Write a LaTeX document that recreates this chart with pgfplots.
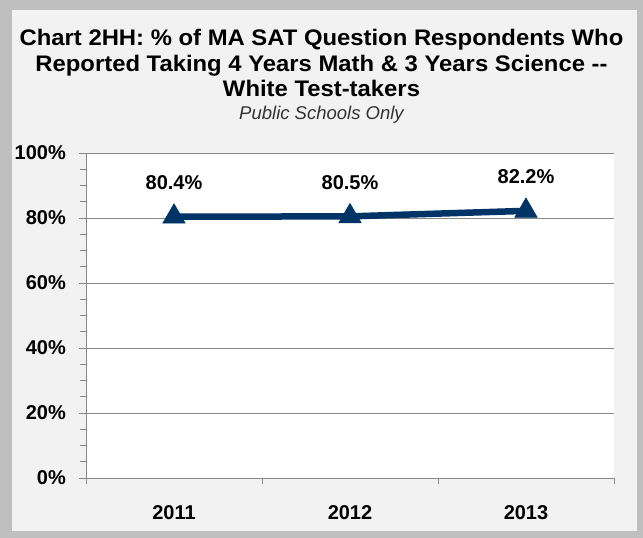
\documentclass[border=0pt]{standalone}
\usepackage{fontspec}
\setmainfont{Liberation Sans}
\newfontfamily\titlefont[FakeStretch=1.06]{Liberation Sans}
\usepackage{pgfplots}
\pgfplotsset{compat=1.18}
\definecolor{navy}{HTML}{003366}
\definecolor{frame}{HTML}{BFBFBF}
\definecolor{panel}{HTML}{F2F2F2}
\definecolor{gridgray}{HTML}{878787}

\begin{document}
\begin{tikzpicture}
% chart frame (px -> bp, origin at the plot's lower left corner)
\fill[frame] (-86bp,-60bp) rectangle (557bp,478bp);
\fill[panel] (-74bp,-53bp) rectangle (551bp,468bp);

\node[anchor=base,font=\titlefont\bfseries\fontsize{22.5bp}{27bp}\selectfont] at (235.5bp,432bp) {Chart 2HH: \% of MA SAT Question Respondents Who};
\node[anchor=base,font=\titlefont\bfseries\fontsize{22.5bp}{27bp}\selectfont] at (235.5bp,406.3bp) {Reported Taking 4 Years Math \& 3 Years Science -{}-};
\node[anchor=base,font=\titlefont\bfseries\fontsize{22.5bp}{27bp}\selectfont] at (235.5bp,381.5bp) {White Test-takers};
\node[anchor=base,font=\itshape\fontsize{18.5bp}{22bp}\selectfont,text=black!80] at (235.5bp,358bp) {Public Schools Only};

\begin{axis}[
    at={(0,0)}, anchor=south west,
    scale only axis,
    width=528bp, height=325bp,
    axis background/.style={fill=white},
    xmin=0.5, xmax=3.5,
    ymin=0, ymax=100,
    xtick={1,2,3},
    xticklabels={2011,2012,2013},
    minor xtick={0.5,1.5,2.5,3.5},
    ytick={0,20,40,60,80,100},
    yticklabels={0\%,20\%,40\%,60\%,80\%,100\%},
    minor y tick num=3,
    tick align=outside,
    xtick style={draw=none},
    minor x tick style={draw=gridgray, line width=0.8bp},
    major tick length=7bp, minor tick length=6bp,
    ytick style={draw=gridgray, line width=0.8bp},
    minor y tick style={draw=gridgray, line width=0.8bp},
    axis x line*=bottom, axis y line*=left,
    axis line style={draw=gridgray, line width=0.8bp, -},
    ymajorgrids=true,
    major grid style={draw=gridgray, line width=0.8bp},
    ticklabel style={font=\bfseries\fontsize{20bp}{24bp}\selectfont},
    yticklabel style={anchor=east, inner sep=0pt, xshift=-13bp},
    xticklabel style={anchor=base, inner sep=0pt, yshift=-34bp},
    /pgf/number format/assume math mode=true,
    point meta=y,
    nodes near coords={\pgfmathprintnumber[fixed,fixed zerofill,precision=1]{\pgfplotspointmeta}\%},
    every node near coord/.append style={anchor=base, inner sep=0pt, yshift=27bp,
        font=\bfseries\fontsize{20bp}{24bp}\selectfont, text=black},
    clip=false,
]
\addplot[navy, line width=6.5bp, mark=triangle*, mark size=13bp,
    mark options={solid, line width=0.5bp, fill=navy}]
    coordinates {(1,80.4) (2,80.5) (3,82.2)};
\end{axis}
\end{tikzpicture}
\end{document}
